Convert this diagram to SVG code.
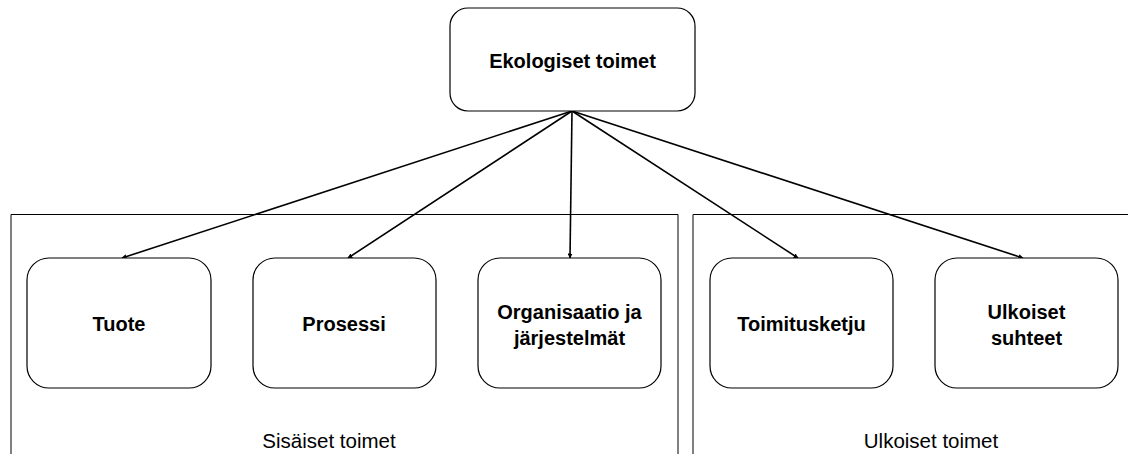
<svg xmlns="http://www.w3.org/2000/svg" width="1128" height="454" viewBox="0 0 1128 454">
<defs>
<marker id="arr" viewBox="0 0 10 10" refX="9" refY="5" markerWidth="5" markerHeight="5" orient="auto" markerUnits="userSpaceOnUse">
<path d="M0,0 L10,5 L0,10 z" fill="#000"/>
</marker>
<style>
.node{fill:#fff;stroke:#000;stroke-width:1.2}
.grp{fill:none;stroke:#000;stroke-width:1}
.lbl{font-family:"Liberation Sans",Arial,sans-serif;font-weight:bold;font-size:20px;fill:#000;text-anchor:middle}
.glbl{font-family:"Liberation Sans",Arial,sans-serif;font-size:20.5px;fill:#000;text-anchor:middle}
.conn{stroke:#000;stroke-width:1.6;fill:none;marker-end:url(#arr)}
</style>
</defs>
<rect width="1128" height="454" fill="#fff"/>
<g id="group-sisaiset">
<path class="grp" d="M11,454 L11,214.5 L678,214.5 L678,454"/>
<text class="glbl" x="329" y="448">Sisäiset toimet</text>
</g>
<g id="group-ulkoiset">
<path class="grp" d="M693,454 L693,214.5 L1128,214.5"/>
<text class="glbl" x="931" y="448">Ulkoiset toimet</text>
</g>
<g id="connectors">
<line class="conn" x1="572" y1="111" x2="122" y2="258"/>
<line class="conn" x1="572" y1="111" x2="348" y2="258"/>
<line class="conn" x1="572" y1="111" x2="570" y2="258"/>
<line class="conn" x1="572" y1="111" x2="798" y2="258"/>
<line class="conn" x1="572" y1="111" x2="1023" y2="258"/>
</g>
<g id="ekologiset">
<rect class="node" x="450" y="8" width="245" height="103" rx="18"/>
<text class="lbl" x="572.5" y="68">Ekologiset toimet</text>
</g>
<g id="tuote">
<rect class="node" x="27" y="258" width="184" height="130" rx="22"/>
<text class="lbl" x="119" y="331">Tuote</text>
</g>
<g id="prosessi">
<rect class="node" x="253" y="258" width="183" height="130" rx="22"/>
<text class="lbl" x="344" y="331">Prosessi</text>
</g>
<g id="organisaatio">
<rect class="node" x="478" y="258" width="183" height="130" rx="22"/>
<text class="lbl" x="569.5" y="319">Organisaatio ja</text>
<text class="lbl" x="569.5" y="345">järjestelmät</text>
</g>
<g id="toimitusketju">
<rect class="node" x="710" y="258" width="183" height="130" rx="22"/>
<text class="lbl" x="801.5" y="331">Toimitusketju</text>
</g>
<g id="ulkoiset-suhteet">
<rect class="node" x="935" y="258" width="183" height="130" rx="22"/>
<text class="lbl" x="1026.5" y="319">Ulkoiset</text>
<text class="lbl" x="1026.5" y="345">suhteet</text>
</g>
</svg>
